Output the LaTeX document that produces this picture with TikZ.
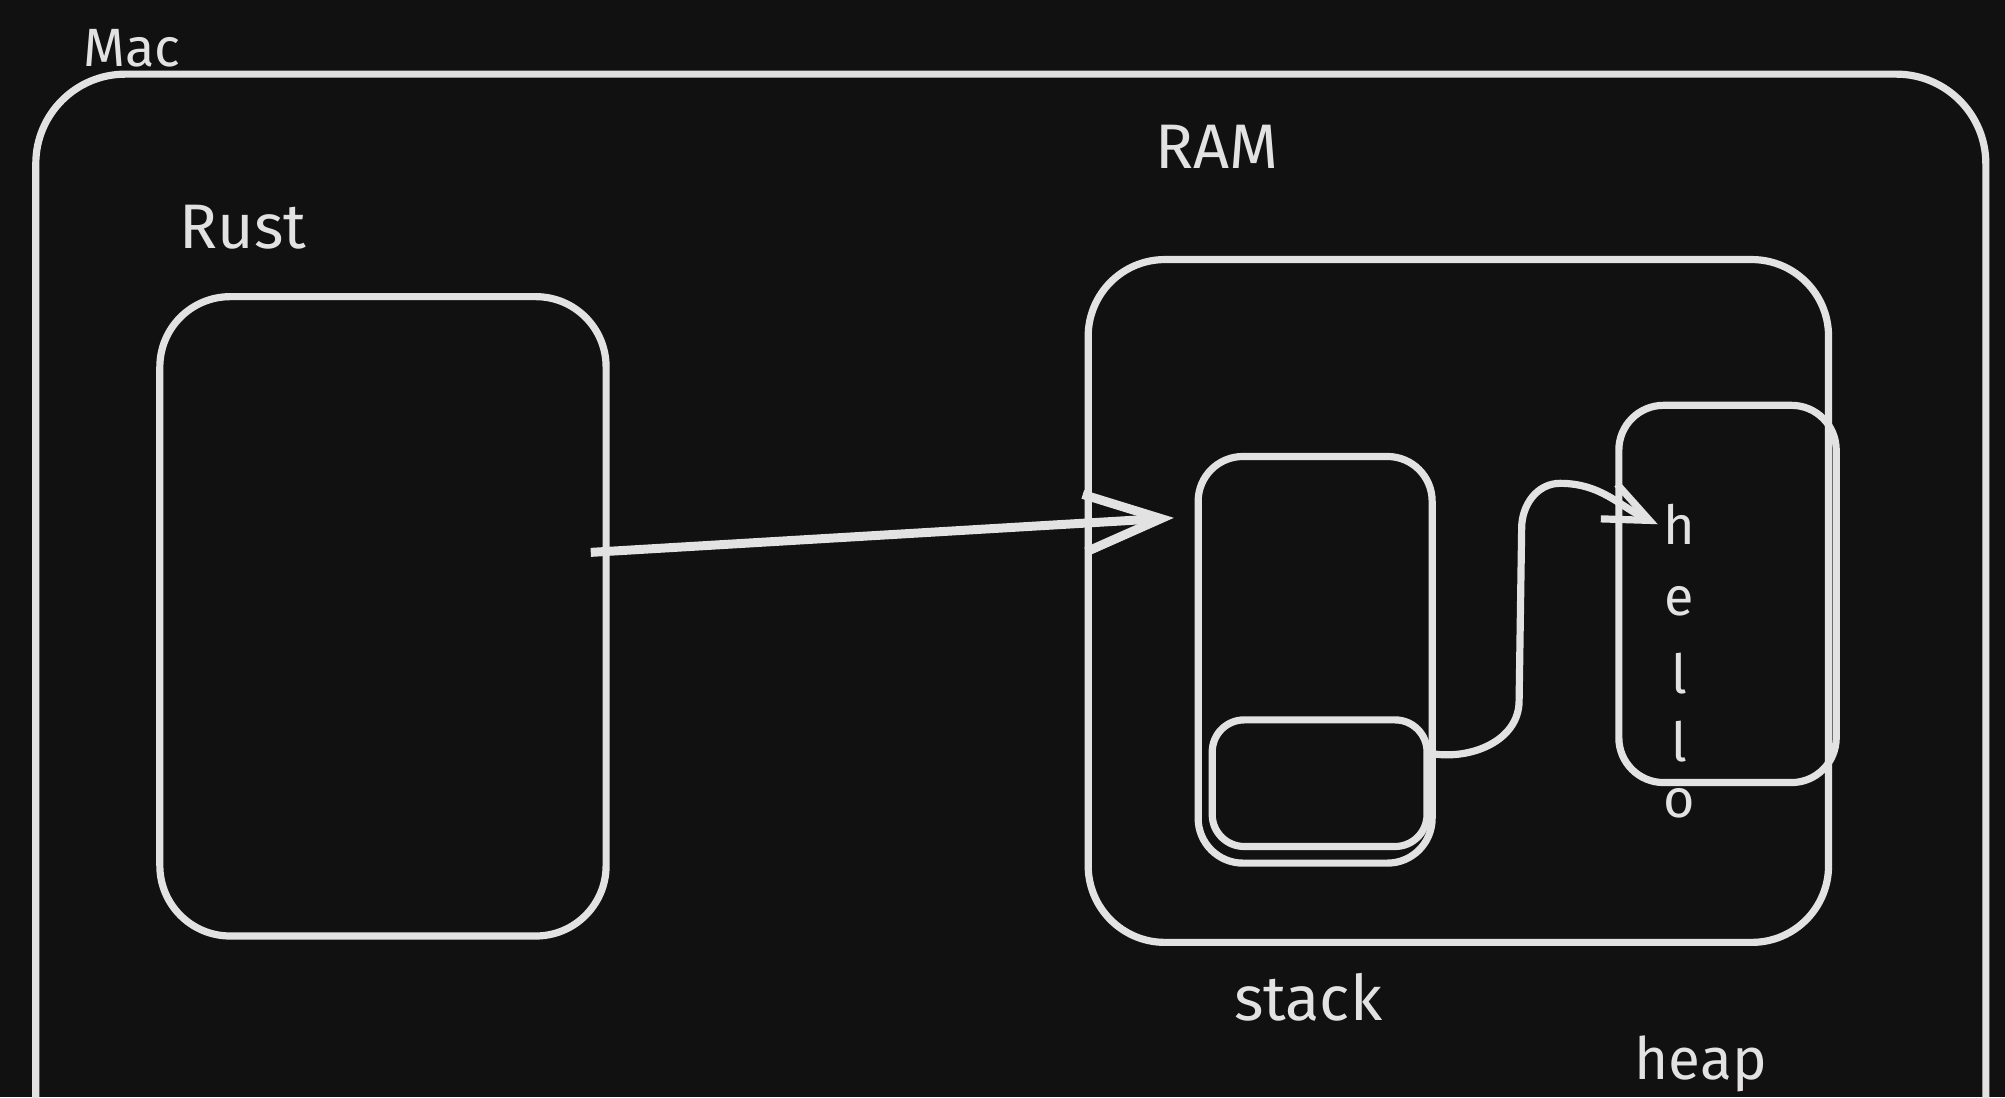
\documentclass[tikz,border=0pt]{standalone}
\usepackage{fontspec}
\setmainfont{Fira Sans}
\usepackage{tikz}
\usetikzlibrary{arrows.meta}
\usetikzlibrary{calc}
\definecolor{board}{HTML}{111111}
\definecolor{chalk}{HTML}{E2E2E2}
\tikzset{mem box/.style={draw=chalk,line width=1.6pt,rounded corners=#1,inner sep=0},
  mem box/.default=0.5cm,
  box label/.style={text=chalk,inner sep=1},
  letter/.style={text=chalk,font=\fontsize{12}{12}\selectfont,inner sep=1}}
\def\lbl#1{\fontsize{#1}{#1}\selectfont}

\begin{document}
\begin{tikzpicture}

            \useasboundingbox[fill=board] (0,0) rectangle (15.68,8.58);
            \clip (0,0) rectangle (15.68,8.58);

            %四角形
            \node[mem box=0.7cm, minimum width=15.25cm, minimum height=8.8cm] (mac) at (7.905,3.60) {};
            \node[mem box=0.55cm, minimum width=3.49cm, minimum height=5.0cm] (rust) at (2.995,3.76) {};
            \node[mem box=0.6cm, minimum width=5.79cm, minimum height=5.34cm] (ram) at (11.405,3.88) {};
            \node[mem box=0.35cm, minimum width=1.83cm, minimum height=3.18cm] (stack) at (10.285,3.42) {};
            \node[mem box=0.25cm, minimum width=1.68cm, minimum height=0.99cm] (slot) at (10.32,2.455) {};
            \node[mem box=0.35cm, minimum width=1.70cm, minimum height=2.95cm] (heap) at (13.51,3.935) {};

            %ラベル
            \node[box label, font=\lbl{12}] (maclbl) at (1.03,8.20) {Mac};
            \node[box label, font=\lbl{14}] (rustlbl) at (1.90,6.80) {Rust};
            \node[box label, font=\lbl{14}] (ramlbl) at (9.52,7.43) {RAM};
            \node[box label, font=\lbl{14}] (stacklbl) at (10.23,0.78) {stack};
            \node[box label, font=\lbl{13}] (heaplbl) at (13.30,0.26) {heap};

            %文字
            \foreach \ch/\y [count=\i] in {h/4.48,e/3.88,l/3.31,l/2.78,o/2.30}
              \node[letter] (c\i) at (13.13,\y) {\ch};

            %矢印
            \coordinate (ptr) at (4.62,4.26);
            \coordinate (tip) at (9.18,4.53);
            \draw[chalk, line width=2pt, -{Straight Barb[length=6mm,width=4.5mm]}] (ptr) -- (tip);
            \draw[chalk, line width=1.6pt, -{Straight Barb[length=3.5mm,width=3mm]}] (slot.15)
              to[out=-10,in=-90] (11.88,3.1) -- (11.90,4.45)
              to[out=90,in=180] (12.2,4.80) to[out=0,in=155] (c1.west);

          \end{tikzpicture}
\end{document}
